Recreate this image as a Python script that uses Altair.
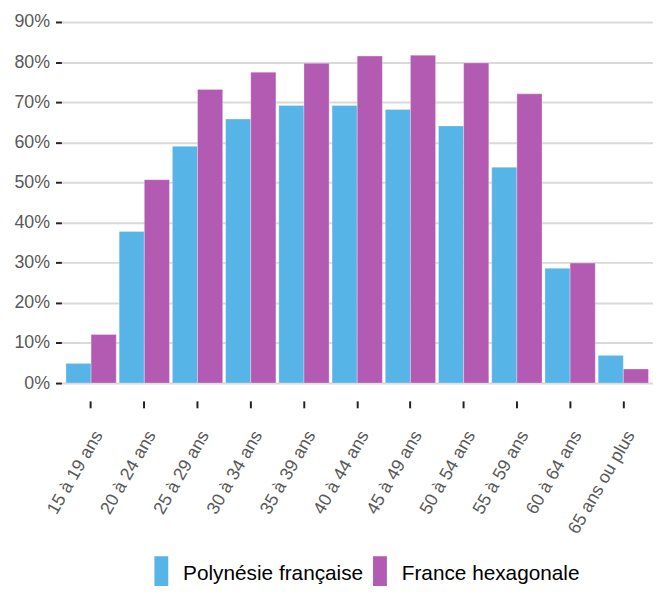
import altair as alt
import pandas as pd

categories = ["15 à 19 ans", "20 à 24 ans", "25 à 29 ans", "30 à 34 ans", "35 à 39 ans",
              "40 à 44 ans", "45 à 49 ans", "50 à 54 ans", "55 à 59 ans", "60 à 64 ans",
              "65 ans ou plus"]
series = ["Polynésie française", "France hexagonale"]
polynesie = [4.9, 37.8, 59.0, 65.8, 69.2, 69.2, 68.2, 64.1, 53.8, 28.6, 6.9]
france = [12.1, 50.7, 73.2, 77.5, 79.7, 81.5, 81.7, 79.8, 72.1, 29.9, 3.5]
colors = ["#56b4e7", "#b35ab2"]

rows = []
for c, p, f in zip(categories, polynesie, france):
    rows.append({"age": c, "serie": series[0], "val": p / 100})
    rows.append({"age": c, "serie": series[1], "val": f / 100})
df = pd.DataFrame(rows)

rect_path = "M-1,-2.6L1,-2.6L1,5L-1,5Z"

chart = alt.Chart(df).mark_bar(stroke="white", strokeWidth=0.5, strokeOpacity=0.6).encode(
    x=alt.X("age:N", sort=categories, title=None,
            scale=alt.Scale(paddingInner=0.055, paddingOuter=0.085),
            axis=alt.Axis(labelAngle=-60, labelFontSize=18, labelColor="#595959",
                          labelFont="Liberation Sans", labelBaseline="top", labelAlign="right",
                          domain=False, tickColor="#222222",
                          tickWidth=2, tickSize=7, offset=18, labelPadding=20)),
    xOffset=alt.XOffset("serie:N", sort=series, scale=alt.Scale(paddingInner=0, paddingOuter=0)),
    y=alt.Y("val:Q", title=None,
            scale=alt.Scale(domain=[0, 0.9], nice=False),
            axis=alt.Axis(format=".0%", values=[i / 10 for i in range(10)],
                          labelFontSize=18, labelColor="#595959", labelFont="Liberation Sans",
                          domain=False, tickColor="#222222", tickWidth=2, tickSize=6,
                          gridColor="#d9d9d9", gridWidth=2, labelPadding=6)),
    color=alt.Color("serie:N", sort=series, title=None,
                    scale=alt.Scale(domain=series, range=colors),
                    legend=alt.Legend(orient="none", legendX=90.5, legendY=547.5, direction="horizontal",
                                      padding=0,
                                      symbolType=rect_path, symbolSize=196, symbolOpacity=1,
                                      symbolStrokeWidth=0, labelLimit=400,
                                      labelFontSize=21, labelColor="#000000", labelFont="Liberation Sans",
                                      columnPadding=6, labelOffset=11.5, symbolOffset=0)),
).properties(
    width=598, height=365,
    autosize=alt.AutoSizeParams(type="none"),
    padding={"left": 54, "top": 11, "right": 0, "bottom": 202},
).configure_view(stroke=None)

chart.save("out.html", embed_options={"renderer": "svg", "actions": False})
